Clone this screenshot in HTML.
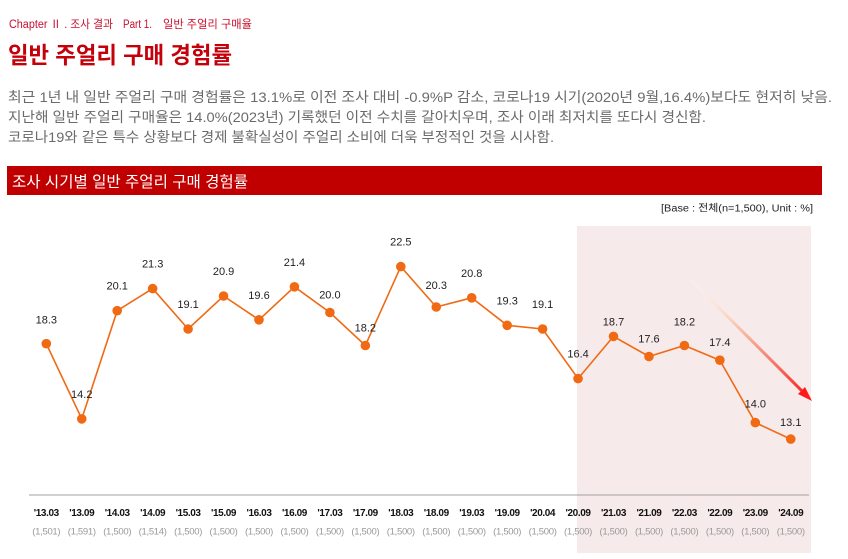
<!DOCTYPE html>
<html><head><meta charset="utf-8">
<style>
html,body{margin:0;padding:0;background:#fff;}
svg{display:block;}
text{font-family:"Liberation Sans","Noto Sans CJK KR",sans-serif;}
</style></head>
<body>
<svg width="848" height="559" viewBox="0 0 848 559" xmlns="http://www.w3.org/2000/svg">
<defs>
<linearGradient id="ag" x1="688" y1="277" x2="808" y2="397" gradientUnits="userSpaceOnUse">
<stop offset="0" stop-color="#ffffff" stop-opacity="0"/>
<stop offset="0.35" stop-color="#fbd3bd"/>
<stop offset="0.7" stop-color="#f57d6a"/>
<stop offset="1" stop-color="#ff1a1a"/>
</linearGradient>
</defs>
<rect width="848" height="559" fill="#fff"/>
<text x="9" y="28" font-size="11.5" fill="#c8102e" textLength="104" lengthAdjust="spacingAndGlyphs">Chapter Ⅱ . 조사 결과</text>
<text x="123" y="28" font-size="11.5" fill="#c8102e" textLength="29" lengthAdjust="spacingAndGlyphs">Part 1.</text>
<text x="163" y="28" font-size="11.5" fill="#c8102e" textLength="89" lengthAdjust="spacingAndGlyphs">일반 주얼리 구매율</text>
<text x="8" y="63" font-size="23" font-weight="bold" fill="#c4000a" textLength="224" lengthAdjust="spacingAndGlyphs">일반 주얼리 구매 경험률</text>
<text x="8" y="102" font-size="14" fill="#6b6b6b" textLength="824" lengthAdjust="spacingAndGlyphs">최근 1년 내 일반 주얼리 구매 경험률은 13.1%로 이전 조사 대비 -0.9%P 감소, 코로나19 시기(2020년 9월,16.4%)보다도 현저히 낮음.</text>
<text x="8" y="122" font-size="14" fill="#6b6b6b" textLength="698" lengthAdjust="spacingAndGlyphs">지난해 일반 주얼리 구매율은 14.0%(2023년) 기록했던 이전 수치를 갈아치우며, 조사 이래 최저치를 또다시 경신함.</text>
<text x="8" y="142" font-size="14" fill="#6b6b6b" textLength="546" lengthAdjust="spacingAndGlyphs">코로나19와 같은 특수 상황보다 경제 불확실성이 주얼리 소비에 더욱 부정적인 것을 시사함.</text>
<rect x="7" y="166" width="815" height="29" fill="#c00000"/>
<text x="12" y="187" font-size="15.5" fill="#fff" textLength="236" lengthAdjust="spacingAndGlyphs">조사 시기별 일반 주얼리 구매 경험률</text>
<text x="813" y="211.5" font-size="10" fill="#222" text-anchor="end" textLength="152" lengthAdjust="spacingAndGlyphs">[Base : 전체(n=1,500), Unit : %]</text>
<rect x="577" y="226" width="234" height="327" fill="#f7eaea"/>
<line x1="29" y1="495" x2="809" y2="495" stroke="#a0a0a0" stroke-width="1"/>
<line x1="688" y1="277" x2="803" y2="392" stroke="url(#ag)" stroke-width="3"/>
<polygon points="812,401 798,394 805,387" fill="#ff1a1a"/>
<polyline fill="none" stroke="#f06a14" stroke-width="1.6" points="46.3,343.7 81.75,418.9 117.2,310.7 152.65,288.6 188.1,329.0 223.55,296.0 259.0,319.8 294.45,286.8 329.9,312.5 365.35,345.5 400.8,266.6 436.25,307.0 471.7,297.8 507.15,325.3 542.6,329.0 578.05,378.6 613.5,336.4 648.95,356.5 684.4,345.5 719.85,360.2 755.3,422.6 790.75,439.1"/>
<g fill="#f06a14">
<circle cx="46.3" cy="343.7" r="4.8"/><circle cx="81.75" cy="418.9" r="4.8"/><circle cx="117.2" cy="310.7" r="4.8"/><circle cx="152.65" cy="288.6" r="4.8"/><circle cx="188.1" cy="329.0" r="4.8"/><circle cx="223.55" cy="296.0" r="4.8"/><circle cx="259.0" cy="319.8" r="4.8"/><circle cx="294.45" cy="286.8" r="4.8"/><circle cx="329.9" cy="312.5" r="4.8"/><circle cx="365.35" cy="345.5" r="4.8"/><circle cx="400.8" cy="266.6" r="4.8"/><circle cx="436.25" cy="307.0" r="4.8"/><circle cx="471.7" cy="297.8" r="4.8"/><circle cx="507.15" cy="325.3" r="4.8"/><circle cx="542.6" cy="329.0" r="4.8"/><circle cx="578.05" cy="378.6" r="4.8"/><circle cx="613.5" cy="336.4" r="4.8"/><circle cx="648.95" cy="356.5" r="4.8"/><circle cx="684.4" cy="345.5" r="4.8"/><circle cx="719.85" cy="360.2" r="4.8"/><circle cx="755.3" cy="422.6" r="4.8"/><circle cx="790.75" cy="439.1" r="4.8"/>
</g>
<g font-size="11" fill="#222" text-anchor="middle">
<text x="46.3" y="323.7">18.3</text><text x="81.75" y="397.9">14.2</text><text x="117.2" y="289.7">20.1</text><text x="152.65" y="267.6">21.3</text><text x="188.1" y="308.0">19.1</text><text x="223.55" y="275.0">20.9</text><text x="259.0" y="298.8">19.6</text><text x="294.45" y="265.8">21.4</text><text x="329.9" y="298.5">20.0</text><text x="365.35" y="331.5">18.2</text><text x="400.8" y="245.6">22.5</text><text x="436.25" y="289.0">20.3</text><text x="471.7" y="276.8">20.8</text><text x="507.15" y="304.3">19.3</text><text x="542.6" y="308.0">19.1</text><text x="578.05" y="357.6">16.4</text><text x="613.5" y="325.4">18.7</text><text x="648.95" y="342.5">17.6</text><text x="684.4" y="325.5">18.2</text><text x="719.85" y="346.2">17.4</text><text x="755.3" y="407.6">14.0</text><text x="790.75" y="426.1">13.1</text>
</g>
<g font-size="10" font-weight="bold" fill="#111" text-anchor="middle" letter-spacing="-0.4">
<text x="46.3" y="516">'13.03</text><text x="81.75" y="516">'13.09</text><text x="117.2" y="516">'14.03</text><text x="152.65" y="516">'14.09</text><text x="188.1" y="516">'15.03</text><text x="223.55" y="516">'15.09</text><text x="259.0" y="516">'16.03</text><text x="294.45" y="516">'16.09</text><text x="329.9" y="516">'17.03</text><text x="365.35" y="516">'17.09</text><text x="400.8" y="516">'18.03</text><text x="436.25" y="516">'18.09</text><text x="471.7" y="516">'19.03</text><text x="507.15" y="516">'19.09</text><text x="542.6" y="516">'20.04</text><text x="578.05" y="516">'20.09</text><text x="613.5" y="516">'21.03</text><text x="648.95" y="516">'21.09</text><text x="684.4" y="516">'22.03</text><text x="719.85" y="516">'22.09</text><text x="755.3" y="516">'23.09</text><text x="790.75" y="516">'24.09</text>
</g>
<g font-size="9.5" fill="#999" text-anchor="middle" letter-spacing="-0.3">
<text x="46.3" y="534.5">(1,501)</text><text x="81.75" y="534.5">(1,591)</text><text x="117.2" y="534.5">(1,500)</text><text x="152.65" y="534.5">(1,514)</text><text x="188.1" y="534.5">(1,500)</text><text x="223.55" y="534.5">(1,500)</text><text x="259.0" y="534.5">(1,500)</text><text x="294.45" y="534.5">(1,500)</text><text x="329.9" y="534.5">(1,500)</text><text x="365.35" y="534.5">(1,500)</text><text x="400.8" y="534.5">(1,500)</text><text x="436.25" y="534.5">(1,500)</text><text x="471.7" y="534.5">(1,500)</text><text x="507.15" y="534.5">(1,500)</text><text x="542.6" y="534.5">(1,500)</text><text x="578.05" y="534.5">(1,500)</text><text x="613.5" y="534.5">(1,500)</text><text x="648.95" y="534.5">(1,500)</text><text x="684.4" y="534.5">(1,500)</text><text x="719.85" y="534.5">(1,500)</text><text x="755.3" y="534.5">(1,500)</text><text x="790.75" y="534.5">(1,500)</text>
</g>
</svg>
</body></html>
